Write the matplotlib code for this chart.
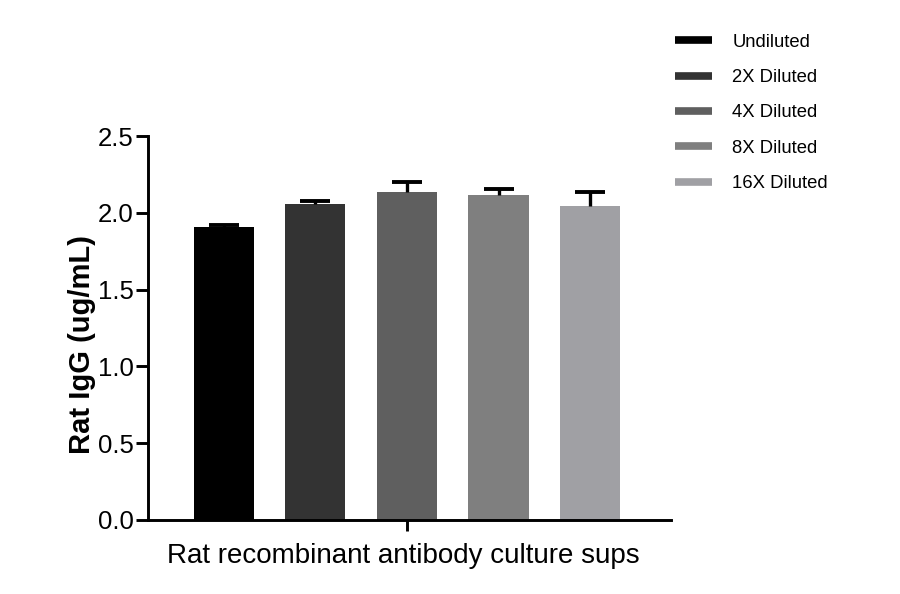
import matplotlib.pyplot as plt
import numpy as np

plt.rcParams['font.family'] = ['Liberation Sans', 'DejaVu Sans']

# data
groups = ["Undiluted", "2X Diluted", "4X Diluted", "8X Diluted", "16X Diluted"]
means = [1.908, 2.057, 2.135, 2.116, 2.044]
errs = [0.012, 0.02, 0.065, 0.04, 0.09]
colors = ["#000000", "#333333", "#5f5f5f", "#7f7f7f", "#a0a0a4"]
xlabel = "Rat recombinant antibody culture sups"
ylabel = "Rat IgG (ug/mL)"

fig = plt.figure(figsize=(9, 5.94), dpi=100)
ax = fig.add_axes([0.1644, 0.1246, 0.5812, 0.6464])

x = np.arange(len(groups))
handles = []
for i in range(len(groups)):
    ax.bar(x[i], means[i], width=0.656, color=colors[i], zorder=2)
    eb = ax.errorbar(x[i], means[i], yerr=[[0], [errs[i]]], fmt="none", ecolor="black",
                     elinewidth=2.4, capsize=11, capthick=2.8, zorder=3)
    # only the upper cap, like the original
    eb[1][0].set_visible(False)
    h, = plt.plot([], [], color=colors[i], lw=5.5, solid_capstyle="butt")
    handles.append(h)

ax.set_xlim(-0.83, 4.885)
ax.set_ylim(0, 2.5)
ax.set_yticks([0, 0.5, 1.0, 1.5, 2.0, 2.5])
ax.set_yticklabels(["0.0", "0.5", "1.0", "1.5", "2.0", "2.5"])
ax.set_xticks([2])
ax.set_xticklabels([""])

for s in ["top", "right"]:
    ax.spines[s].set_visible(False)
for s in ["left", "bottom"]:
    ax.spines[s].set_linewidth(2.1)
ax.tick_params(axis="y", length=8.5, width=2.1, labelsize=18.5, pad=2)
ax.tick_params(axis="x", length=8, width=2.1)

ax.set_xlabel(xlabel, fontsize=20, labelpad=4)
ax.set_ylabel(ylabel, fontsize=21, fontweight="bold")
ax.yaxis.set_label_coords(-0.1, 0.456)
ax.xaxis.set_label_coords(0.488, -0.06)

fig.legend(handles, groups, loc="upper left", bbox_to_anchor=(0.75, 0.943),
           frameon=False, fontsize=13.3, handlelength=2.0, handletextpad=1.1,
           labelspacing=0.99, borderpad=0, borderaxespad=0)

fig.savefig("out.png", dpi=100)
